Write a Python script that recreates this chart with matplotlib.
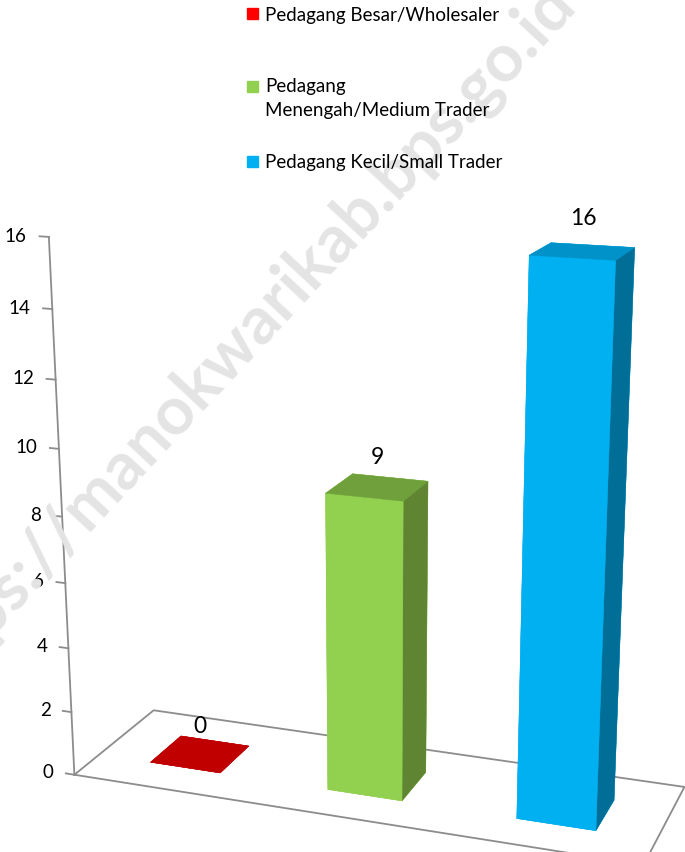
import numpy as np
import matplotlib
matplotlib.use("Agg")
import matplotlib.pyplot as plt
from matplotlib.patches import Rectangle

# data
categories = ["Pedagang Besar/Wholesaler",
              "Pedagang\nMenengah/Medium Trader",
              "Pedagang Kecil/Small Trader"]
values = [0, 9, 16]
front_colors = ["#C00000", "#92D050", "#00B0F0"]
side_colors = ["#C00000", "#5F8532", "#006E96"]
top_colors = ["#C00000", "#70A03C", "#0092C8"]
legend_colors = ["#FF0000", "#92D050", "#00B0F0"]
zticks = [0, 2, 4, 6, 8, 10, 12, 14, 16]

plt.rcParams['font.family'] = ['Lato', 'DejaVu Sans']

fig = plt.figure(figsize=(6.85, 8.53), dpi=100)

# watermark
fig.text(0.35, 0.60, "https://manokwarikab.bps.go.id", rotation=47,
         fontsize=48, fontweight='bold', color='#E4E4E4',
         ha='center', va='center', zorder=0)

ax = fig.add_axes([-0.064, -0.064, 1.2, 0.88], projection='3d',
                  proj_type='persp', focal_length=0.5)
ax.patch.set_alpha(0)
ax.set_box_aspect((2.9, 0.9, 2.7), zoom=1.1)
ax.view_init(elev=17, azim=-70)
ax.set_axis_off()
ax.set_xlim(0, 3)
ax.set_ylim(0, 1)
ax.set_zlim(0, 16)

xs = np.arange(len(values)) + 0.5
w, d, y0 = 0.4, 0.4, 0.3

### floor outline and value axis
grey = '#8C8C8C'
ax.plot([0, 3, 3, 0, 0], [0, 0, 1, 1, 0], [0, 0, 0, 0, 0], color=grey, lw=1.3)
ax.plot([0, 0], [0, 0], [0, 16], color=grey, lw=1.3)
for t in zticks:
    ax.plot([-0.05, 0], [0, 0], [t, t], color=grey, lw=1.3)
    ax.text(-0.12, 0, t, str(t), ha='right', va='center', fontsize=13.5)

### bars, face order: bottom, top, front, back, left, right
for i, v in enumerate(values):
    cols = [front_colors[i], top_colors[i], front_colors[i],
            front_colors[i], front_colors[i], side_colors[i]]
    ax.bar3d(xs[i] - w / 2, y0, 0, w, d, v, color=cols, shade=False,
             edgecolor=cols, linewidth=0.3)
    ax.text(xs[i], y0 + d / 2, v + 0.6, str(v), ha='center', va='bottom',
            fontsize=16.5)

### legend
rows = [0.982, 0.897, 0.809]
for i, lab in enumerate(categories):
    fig.patches.append(Rectangle((0.361, rows[i] - 0.006), 0.016, 0.013,
                                 transform=fig.transFigure, color=legend_colors[i]))
    fig.text(0.387, rows[i] + (0.011 if '\n' in lab else 0), lab, ha='left',
             va='top' if '\n' in lab else 'center',
             fontsize=13.5, linespacing=1.45)

fig.savefig("out.png", dpi=100)
